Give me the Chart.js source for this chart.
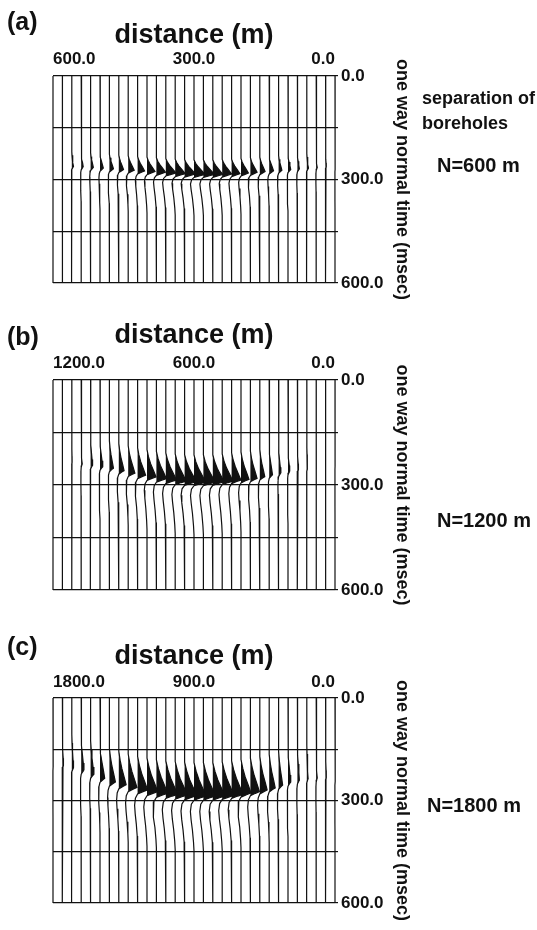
<!DOCTYPE html>
<html>
<head>
<meta charset="utf-8">
<script src="https://cdn.jsdelivr.net/npm/chart.js@4.4.1/dist/chart.umd.min.js"></script>
<style>
  body { margin: 0; width: 537px; height: 930px; overflow: hidden; background: #fff; position: relative;
         font-family: "Liberation Sans", Arial, sans-serif; font-weight: bold; color: #111; }
  canvas { position: absolute; left: 0; }
  .t { position: absolute; transform: translateY(-50%); white-space: nowrap; line-height: 1; }
</style>
</head>
<body>
<canvas id="ca" width="537" height="304" style="top:0"></canvas>
<canvas id="cb" width="537" height="318" style="top:304px"></canvas>
<canvas id="cc" width="537" height="308" style="top:622px"></canvas>

<div class="t" style="left:7px;top:21px;font-size:25px">(a)</div>
<div class="t" style="left:422px;top:98px;font-size:18px">separation of</div>
<div class="t" style="left:422px;top:123px;font-size:18px">boreholes</div>
<div class="t" style="left:437px;top:165px;font-size:20px">N=600 m</div>
<div class="t" style="left:7px;top:336px;font-size:25px">(b)</div>
<div class="t" style="left:437px;top:520px;font-size:20px">N=1200 m</div>
<div class="t" style="left:7px;top:646px;font-size:25px">(c)</div>
<div class="t" style="left:427px;top:805px;font-size:20px">N=1800 m</div>

<script>
// 31 traces per panel, left (far) to right (0 m)
const traceCount = 31;
const timeTicks = [0, 300, 600];          // ms
const distMaxA = 600, distMaxB = 1200, distMaxC = 1800;

// peak amplitude of each trace, in trace spacings
const ampA = [0, 0.03, 0.18, 0.21, 0.29, 0.35, 0.43, 0.5, 0.64, 0.74, 0.85, 0.96, 1.06, 1.06, 1.14, 1.17,
              1.17, 1.06, 0.99, 0.88, 0.78, 0.71, 0.56, 0.46, 0.35, 0.29, 0.21, 0.18, 0.11, 0.07, 0.03];
const ampB = [0, 0, 0.03, 0.11, 0.21, 0.29, 0.43, 0.56, 0.71, 0.85, 0.96, 1.06, 1.14, 1.17, 1.24, 1.24,
              1.24, 1.2, 1.14, 0.99, 0.85, 0.71, 0.53, 0.35, 0.24, 0.18, 0.11, 0.07, 0.05, 0.03, 0.02];
const ampC = [0.03, 0.11, 0.18, 0.29, 0.35, 0.5, 0.64, 0.78, 0.93, 1.06, 1.14, 1.2, 1.24, 1.28, 1.28, 1.28,
              1.28, 1.28, 1.24, 1.2, 1.06, 0.96, 0.78, 0.64, 0.43, 0.29, 0.21, 0.14, 0.11, 0.07, 0.05];

// time of the positive peak on each trace (ms)
const peakA = [260, 261, 262, 263, 265, 267, 269, 271, 273, 275, 277, 279, 281, 283, 284, 285,
               285, 285, 284, 283, 281, 279, 277, 275, 273, 271, 269, 267, 265, 263, 262];
const peakB = [225, 230, 235, 240, 244, 248, 252, 259, 266, 272, 277, 282, 286, 289, 291, 292,
               292, 291, 289, 286, 284, 281, 276, 271, 266, 261, 256, 251, 246, 241, 236];
const peakC = [190, 197, 204, 211, 223, 235, 246, 254, 262, 269, 274, 279, 282, 284, 286, 287,
               287, 287, 285, 282, 278, 274, 269, 263, 255, 246, 240, 236, 234, 233, 232];

// wavelet shape around the peak: time offset (ms) and relative amplitude
const waveTA = [-42, -32, -22, -11, 0, 4, 9, 16, 28, 45, 70, 100, 120];
const waveVA = [0, 0.15, 0.38, 0.7, 1, 0.55, 0, -0.22, -0.32, -0.26, -0.14, -0.04, 0];
const waveTB = [-78, -58, -38, -17, 0, 4, 10, 20, 38, 60, 90, 125, 150];
const waveVB = [0, 0.16, 0.4, 0.74, 1, 0.55, 0, -0.22, -0.3, -0.24, -0.13, -0.04, 0];
const waveTC = [-98, -72, -47, -21, 0, 5, 12, 24, 45, 70, 100, 135, 160];
const waveVC = [0, 0.18, 0.42, 0.75, 1, 0.55, 0, -0.22, -0.3, -0.24, -0.13, -0.04, 0];

const ink = "#111";

// distance axis runs from -dMax (left) to 0 (right); labels show the magnitude
function traceSets(dMax, amp, peak, waveT, waveV) {
  const step = dMax / (traceCount - 1);
  const zero = waveV.indexOf(0, 1);
  const sets = [];
  amp.forEach((a, k) => {
    const d = -dMax + k * step;
    const pts = [{ x: d, y: 0 }];
    waveT.forEach((dt, j) => pts.push({ x: d + a * waveV[j] * step, y: peak[k] + dt }));
    pts.push({ x: d, y: 600 });
    // black positive lobe
    sets.push({ data: pts.slice(1, zero + 2), fill: { value: d }, backgroundColor: ink,
                borderWidth: 0, pointRadius: 0, clip: 6 });
    // the wiggle itself
    sets.push({ data: pts, borderColor: ink, borderWidth: 1.2, pointRadius: 0, fill: false, clip: 6 });
  });
  return sets;
}

function drawPanel(id, dMax, amp, peak, waveT, waveV, plotH, titlePad, tickPad) {
  const cv = document.getElementById(id);
  new Chart(cv, {
    type: "line",
    data: { datasets: traceSets(dMax, amp, peak, waveT, waveV) },
    options: {
      indexAxis: "y",
      responsive: false,
      animation: false,
      events: [],
      layout: { padding: { top: 0, left: 53, right: 0, bottom: cv.height - 76 - plotH } },
      plugins: { legend: { display: false }, tooltip: { enabled: false } },
      scales: {
        x: {
          type: "linear", position: "top", min: -dMax, max: 0,
          ticks: {
            stepSize: dMax / 2, autoSkip: false, maxRotation: 0, padding: tickPad, align: "inner",
            color: ink, font: { family: "Liberation Sans", size: 17, weight: "bold" },
            callback: v => Math.abs(v).toFixed(1)
          },
          grid: { display: false, drawTicks: false },
          border: { display: false },
          title: {
            display: true, text: "distance (m)", color: ink,
            font: { family: "Liberation Sans", size: 27, weight: "bold" },
            padding: { top: titlePad, bottom: 0 }
          },
          afterFit: s => { s.height = 76; }
        },
        y: {
          type: "linear", position: "right", reverse: true, min: 0, max: 600,
          ticks: {
            stepSize: 150, autoSkip: false, padding: 3, color: ink,
            font: { family: "Liberation Sans", size: 17, weight: "bold" },
            callback: v => timeTicks.includes(v) ? v.toFixed(1) : ""
          },
          grid: { color: ink, lineWidth: 1.2, tickLength: 3 },
          border: { display: false },
          title: {
            display: true, text: "one way normal time (msec)", color: ink,
            font: { family: "Liberation Sans", size: 18, weight: "bold" },
            padding: { top: 124, bottom: 0 }
          },
          afterFit: s => { s.width = 202; }
        }
      }
    }
  });
}

drawPanel("ca", distMaxA, ampA, peakA, waveTA, waveVA, 207, 19, 6);
drawPanel("cb", distMaxB, ampB, peakB, waveTB, waveVB, 210, 15, 6);
drawPanel("cc", distMaxC, ampC, peakC, waveTC, waveVC, 205, 18, 5);
</script>
</body>
</html>
